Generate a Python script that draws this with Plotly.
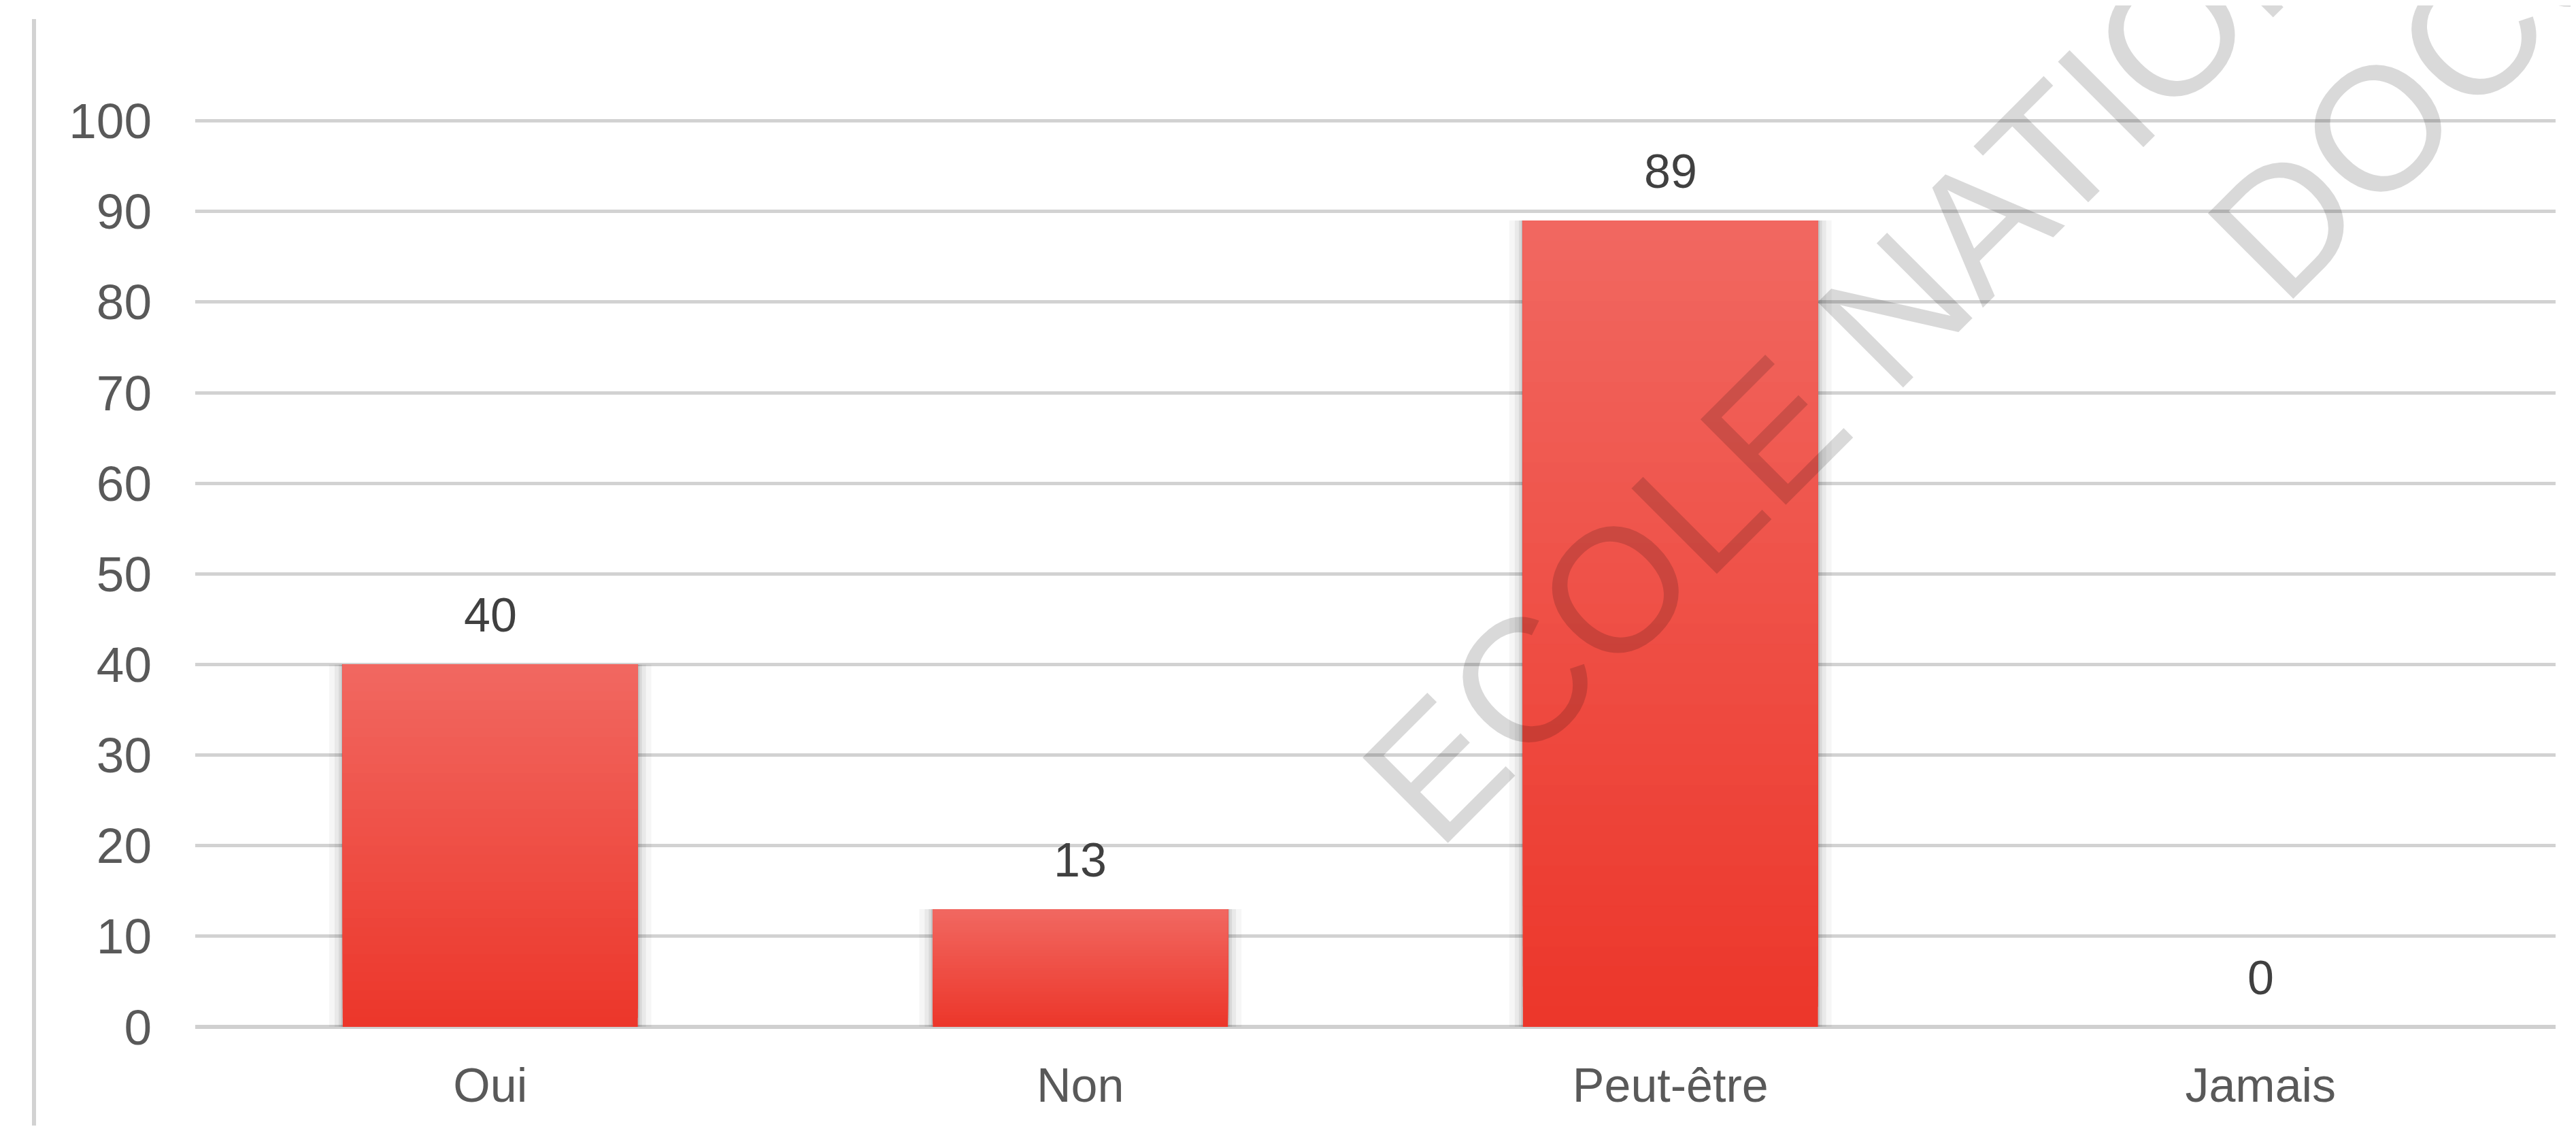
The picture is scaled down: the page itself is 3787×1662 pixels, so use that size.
import plotly.graph_objects as go

# ---- data ----
categories = ["Oui", "Non", "Peut-être", "Jamais"]
values = [40, 13, 89, 0]
y_ticks = [0, 10, 20, 30, 40, 50, 60, 70, 80, 90, 100]
watermark_line1 = "ECOLE NATIONALE"
watermark_line2 = "DOCUMENTATION"

# ---- page geometry (the browser adds an 8px body margin) ----
OFF = 8
W, H = 3787 - 2 * OFF, 1662 - 2 * OFF
Y_MAX = 100.5
L = 287 - OFF
R = W - (3757 - OFF)
T = 163
B = H - (1509 - OFF)
PW, PH = W - L - R, H - T - B


def px_to_paper(px, py):
    """page pixel -> paper fraction"""
    fx, fy = px - OFF, py - OFF
    return (fx - L) / PW, (H - B - fy) / PH


FONT = "Liberation Sans, Arial, sans-serif"
top_rgb = (241, 104, 97)
bot_rgb = (236, 54, 42)
N_SEG = 40

fig = go.Figure()

# soft shadows behind the bars
for extra, alpha in [(20, 0.035), (12, 0.05), (6, 0.07), (2.5, 0.10)]:
    fig.add_trace(go.Bar(
        x=categories, y=values, width=0.5 + 2 * extra / (PW / 4),
        marker=dict(color=f"rgba(0,0,0,{alpha})", line=dict(width=0)),
        hoverinfo="skip", showlegend=False,
    ))

# vertical gradient: overlapping segments, each reaching the bar top
for i in range(N_SEG):
    t = (i + 0.5) / N_SEG
    c = tuple(round(bot_rgb[k] + (top_rgb[k] - bot_rgb[k]) * t) for k in range(3))
    fig.add_trace(go.Bar(
        x=categories,
        y=[v - v * i / N_SEG for v in values],
        base=[v * i / N_SEG for v in values],
        width=0.5,
        marker=dict(color=f"rgb{c}", line=dict(width=0)),
        hoverinfo="skip", showlegend=False,
    ))

# data labels
for cat, v in zip(categories, values):
    fig.add_annotation(
        x=cat, y=v, text=str(v), showarrow=False, yanchor="bottom", yshift=31,
        font=dict(family=FONT, size=70, color="#404040"),
    )

# watermark (two diagonal lines)
fs = 258
cx1, cy1 = px_to_paper(2895, 345)
half2 = 9.033 * fs / 2 * 0.7071
cx2, cy2 = px_to_paper(3324 + half2 - 62.5, 485 - half2 - 62.5)
for txt, cx, cy in [(watermark_line1, cx1, cy1), (watermark_line2, cx2, cy2)]:
    fig.add_annotation(
        xref="paper", yref="paper", x=cx, y=cy, text=txt, showarrow=False,
        textangle=-45, xanchor="center", yanchor="middle",
        font=dict(family=FONT, size=fs, color="rgba(0,0,0,0.15)"),
    )

# left frame line
x0p, ytop = px_to_paper(50, 28)
_, ybot = px_to_paper(0, 1662)
fig.add_shape(type="line", xref="paper", yref="paper", x0=x0p, x1=x0p, y0=ybot, y1=ytop,
              line=dict(color="#d2d2d2", width=6))

fig.update_layout(
    width=W, height=H,
    margin=dict(l=L, r=R, t=T, b=B, autoexpand=False),
    paper_bgcolor="white", plot_bgcolor="white",
    barmode="overlay",
    showlegend=False,
    font=dict(family=FONT),
)
fig.update_xaxes(
    showgrid=False, showline=False, ticks="", zeroline=False,
    tickfont=dict(family=FONT, size=70, color="#595959"),
    ticklabelstandoff=39,
)
fig.update_yaxes(
    range=[0, Y_MAX], tickvals=y_ticks, ticktext=[str(v) for v in y_ticks],
    showgrid=True, gridcolor="#d2d2d2", gridwidth=4.5,
    zeroline=True, zerolinecolor="#d0d0d0", zerolinewidth=6,
    showline=False, ticks="",
    tickfont=dict(family=FONT, size=73, color="#595959"),
    ticklabelstandoff=63,
)

fig.write_html("out.html")
